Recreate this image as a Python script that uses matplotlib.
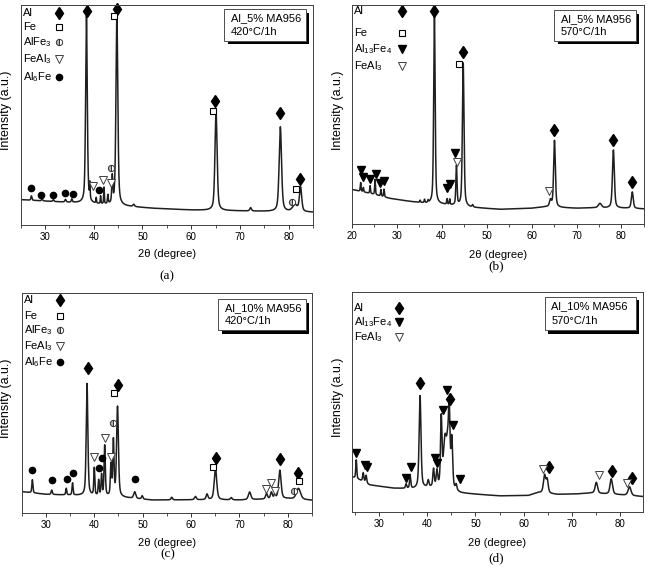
import numpy as np
import matplotlib
matplotlib.use('Agg')
import matplotlib.pyplot as plt
from matplotlib.patches import Rectangle
from matplotlib.ticker import MultipleLocator

plt.rcParams['font.family'] = ['Liberation Sans', 'DejaVu Sans']
plt.rcParams['mathtext.default'] = 'regular'

# ---- panel (a): Al_5% MA956, 420°C/1h ----
a_base_x = [25, 32, 38, 46, 52, 60, 70, 80, 85]
a_base_y = [11.5, 10.6, 9.9, 8.6, 7.6, 6.8, 6.4, 6.0, 5.8]
a_pos = [27.2, 29.4, 31.7, 34.2, 35.5, 38.5, 39.2, 40.5, 41.4, 42.1, 42.9, 43.8,
         44.75, 48.2, 65.1, 72.2, 78.3, 81.3, 82.45]
a_height = [2.0, 0.8, 0.8, 1.2, 1.5, 85.0, 7.0, 2.5, 3.5, 7.5, 4.0, 12.0,
            86.0, 1.0, 45.0, 1.5, 38.5, 3.0, 11.0]
a_fwhm = [0.25, 0.3, 0.3, 0.3, 0.25, 0.4, 0.15, 0.15, 0.15, 0.15, 0.2, 0.25,
          0.45, 0.4, 0.52, 0.4, 0.58, 1.2, 0.55]
a_al_x, a_al_y = [38.56, 44.8, 64.95, 78.2, 82.4], [97.4, 98.3, 56.4, 50.8, 20.8]
a_fe_x, a_fe_y = [44.2, 64.4, 81.6], [95.0, 52.0, 16.2]
a_alfe3_x, a_alfe3_y = [43.5, 80.7], [26.0, 10.5]
a_feal3_x, a_feal3_y = [39.8, 42.0, 43.5], [17.7, 20.5, 19.1]
a_al6fe_x = [27.1, 29.2, 31.6, 34.1, 35.8, 41.0]
a_al6fe_y = [17.0, 13.5, 13.5, 14.4, 14.2, 15.8]

# ---- panel (b): Al_5% MA956, 570°C/1h ----
b_base_x = [20, 24, 28.5, 33, 36.6, 40, 46.3, 53, 60, 63, 70, 74, 81, 85]
b_base_y = [15.8, 14.0, 11.7, 10.3, 9.4, 9.0, 7.6, 6.7, 7.2, 7.8, 7.2, 7.4, 7.2, 6.9]
b_pos = [22.0, 22.6, 24.1, 25.2, 26.5, 27.2, 35.2, 36.2, 37.0, 38.4, 41.2, 41.8,
         43.3, 44.8, 46.9, 64.2, 65.1, 75.2, 78.2, 82.4]
b_height = [4.0, 2.0, 3.5, 7.0, 3.0, 3.5, 1.0, 1.5, 1.0, 86.5, 2.5, 2.5,
            18.0, 65.5, 1.0, 3.0, 30.5, 2.0, 26.5, 7.5]
b_fwhm = [0.2, 0.2, 0.2, 0.2, 0.2, 0.2, 0.2, 0.2, 0.2, 0.38, 0.2, 0.2,
          0.3, 0.42, 0.3, 0.5, 0.45, 0.8, 0.5, 0.5]
b_al_x, b_al_y = [38.2, 44.7, 65.1, 78.1, 82.4], [97.3, 78.4, 42.9, 38.4, 19.0]
b_fe_x, b_fe_y = [43.8], [72.9]
b_al13fe4_x = [22.1, 22.6, 24.1, 25.4, 26.4, 27.3, 41.2, 41.8, 43.0]
b_al13fe4_y = [24.7, 21.3, 20.4, 22.8, 18.6, 19.8, 16.3, 18.1, 32.3]
b_feal3_x, b_feal3_y = [43.4, 63.9], [28.2, 15.2]

# ---- panel (c): Al_10% MA956, 420°C/1h ----
c_base_x = [25, 30, 34, 37, 46, 52, 59, 65, 70, 74, 80, 85]
c_base_y = [9.7, 8.5, 8.2, 8.0, 7.0, 5.9, 6.0, 6.0, 5.9, 6.2, 6.5, 5.8]
c_pos = [27.2, 31.2, 34.2, 35.5, 38.5, 40.0, 40.9, 41.5, 42.15, 43.45, 43.95, 44.8,
         48.35, 49.9, 56.0, 60.9, 63.3, 65.05, 68.3, 72.1, 75.6, 76.6, 77.3, 78.35, 82.2]
c_height = [6.0, 2.0, 3.0, 5.5, 51.0, 12.5, 7.0, 9.5, 23.0, 14.0, 25.0, 41.0,
            3.0, 1.5, 1.2, 1.5, 2.5, 14.5, 1.0, 3.5, 2.5, 3.0, 2.0, 13.0, 5.0]
c_fwhm = [0.25, 0.3, 0.25, 0.25, 0.4, 0.25, 0.25, 0.25, 0.3, 0.3, 0.3, 0.45,
          0.5, 0.35, 0.35, 0.45, 0.45, 0.6, 0.45, 0.6, 0.45, 0.45, 0.35, 0.6, 1.0]
c_al_x, c_al_y = [38.6, 44.9, 65.1, 78.4, 82.2], [65.9, 58.3, 25.2, 24.4, 18.3]
c_fe_x, c_fe_y = [44.1, 64.6, 82.3], [54.5, 21.1, 14.6]
c_alfe3_x, c_alfe3_y = [43.9, 81.2], [41.1, 10.2]
c_feal3_x = [39.9, 42.3, 43.5, 75.5, 76.5, 77.4]
c_feal3_y = [25.3, 34.1, 25.6, 11.1, 13.5, 10.0]
c_al6fe_x = [27.2, 31.2, 34.3, 35.6, 41.0, 41.5, 48.5]
c_al6fe_y = [19.6, 15.0, 15.6, 18.3, 20.6, 25.2, 15.5]

# ---- panel (d): Al_10% MA956, 570°C/1h ----
d_base_x = [24.3, 26, 28, 33, 37, 40, 43, 47, 55, 61, 63, 67, 71, 74, 80, 84.8]
d_base_y = [16.0, 14.5, 12.3, 10.8, 10.5, 11.0, 11.0, 8.5, 7.3, 7.5, 8.8, 8.0, 8.2, 8.6, 7.8, 7.0]
d_pos = [25.25, 26.7, 27.3, 35.6, 36.45, 38.5, 40.2, 41.3, 42.0, 42.9, 43.7, 44.2,
         44.55, 45.1, 46.0, 64.35, 64.9, 75.1, 78.2, 82.0]
d_height = [8.5, 4.0, 3.5, 2.0, 5.5, 42.0, 3.0, 8.0, 7.0, 30.0, 22.0, 12.0,
            35.0, 22.0, 2.5, 8.0, 6.0, 5.0, 7.0, 4.0]
d_fwhm = [0.25, 0.3, 0.3, 0.3, 0.3, 0.45, 0.35, 0.35, 0.35, 0.35, 0.8, 0.45,
          0.4, 0.4, 0.35, 0.55, 0.5, 0.6, 0.6, 0.7]
d_al_x, d_al_y = [38.5, 44.7, 65.2, 78.3, 82.5], [58.8, 51.2, 20.6, 18.8, 15.6]
d_al13fe4_x = [25.3, 27.0, 27.5, 35.5, 36.7, 41.6, 42.0, 43.3, 44.1, 45.3, 46.8]
d_al13fe4_y = [27.0, 21.4, 20.6, 15.3, 20.3, 24.4, 22.1, 46.4, 55.5, 39.5, 14.9]
d_feal3_x, d_feal3_y = [64.1, 75.6, 81.4], [19.4, 16.7, 13.3]

# marker styles per phase
STYLE = {
    'Al': dict(marker='d', ms=6, mfc='black', mec='black'),
    'Fe': dict(marker='s', ms=4, mfc='white', mec='black', mew=0.8),
    'AlFe$_3$': dict(marker='o', ms=4.5, fillstyle='left', mfc='0.7',
                     mfcalt='white', mec='0.2', mew=0.7),
    'FeAl$_3$': dict(marker='v', ms=6, mfc='white', mec='0.25', mew=0.7),
    'Al$_6$Fe': dict(marker='o', ms=4.5, mfc='black', mec='black'),
    'Al$_{13}$Fe$_4$': dict(marker='v', ms=6, mfc='black', mec='black'),
}


def profile(x, bx, by, pos, hgt, fw):
    y = np.interp(x, bx, by)
    for c, h, w in zip(pos, hgt, fw):
        g = np.exp(-4 * np.log(2) * ((x - c) / w) ** 2)
        l = 1 / (1 + ((x - c) / (w / 2)) ** 2)
        y = y + h * (0.5 * g + 0.5 * l)
    return y


def panel(rect, xlim, bx, by, pos, hgt, fw, marks, legend, legend_xy, box, box_txt,
          ylab_x, xlab_y, cap, cap_xy):
    ax = fig.add_axes(rect)
    x = np.arange(xlim[0], xlim[1] + 0.01, 0.01)
    ax.plot(x, profile(x, bx, by, pos, hgt, fw), color='0.12', lw=1.1)
    for name, mx, my in marks:
        ax.plot(mx, my, ls='none', clip_on=False, **STYLE[name])
    # phase legend
    tx, mx0, rows = legend_xy
    for name, ry in zip(legend, rows):
        ax.text(tx, ry, name, transform=ax.transAxes, fontsize=8, va='center')
        ax.plot([mx0], [ry], transform=ax.transAxes, ls='none', clip_on=False,
                **STYLE[name])
    # sample box with shadow
    x0, y0, x1, y1 = box
    ax.add_patch(Rectangle((x0 + 0.012, y0 - 0.016), x1 - x0, y1 - y0,
                           transform=ax.transAxes, fc='black', ec='black', lw=0, zorder=4))
    ax.add_patch(Rectangle((x0, y0), x1 - x0, y1 - y0, transform=ax.transAxes,
                           fc='white', ec='0.3', lw=0.7, zorder=5))
    ax.text(x0 + 0.022, y0 + (y1 - y0) * 0.72, box_txt[0], transform=ax.transAxes,
            fontsize=8, va='center', zorder=6)
    ax.text(x0 + 0.022, y0 + (y1 - y0) * 0.28, box_txt[1], transform=ax.transAxes,
            fontsize=8, va='center', zorder=6)

    ax.set_xlim(*xlim)
    ax.set_ylim(0, 100)
    ax.xaxis.set_major_locator(MultipleLocator(10))
    ax.xaxis.set_minor_locator(MultipleLocator(5))
    ax.tick_params(axis='x', which='major', direction='out', length=3, width=0.7,
                   labelsize=7, pad=2, color='0.2')
    ax.tick_params(axis='x', which='minor', direction='out', length=2, width=0.6,
                   color='0.2')
    ax.set_yticks([])
    for s in ax.spines.values():
        s.set_linewidth(0.7)
        s.set_color('0.25')
    ax.text(ylab_x, 0.52, 'Intensity (a.u.)', transform=ax.transAxes, rotation=90,
            fontsize=9, ha='center', va='center')
    ax.text(0.5, xlab_y, '2θ (degree)', transform=ax.transAxes, fontsize=8,
            ha='center', va='center')
    ax.text(cap_xy[0], cap_xy[1], cap, transform=ax.transAxes, fontsize=9.5,
            ha='center', va='center', family='Liberation Serif')
    return ax


fig = plt.figure(figsize=(6.48, 5.69), dpi=100)

panel([0.0319, 0.6046, 0.4511, 0.3866], (25, 85), a_base_x, a_base_y, a_pos, a_height, a_fwhm,
      [('Al', a_al_x, a_al_y), ('Fe', a_fe_x, a_fe_y), ('AlFe$_3$', a_alfe3_x, a_alfe3_y),
       ('FeAl$_3$', a_feal3_x, a_feal3_y), ('Al$_6$Fe', a_al6fe_x, a_al6fe_y)],
      ['Al', 'Fe', 'AlFe$_3$', 'FeAl$_3$', 'Al$_6$Fe'],
      (0.008, 0.132, [0.962, 0.901, 0.830, 0.755, 0.674]),
      (0.696, 0.838, 0.976, 0.980), ('Al_5% MA956', '420°C/1h'),
      -0.05, -0.132, '(a)', (0.5, -0.232))

panel([0.5427, 0.6063, 0.4511, 0.3849], (20, 85), b_base_x, b_base_y, b_pos, b_height, b_fwhm,
      [('Al', b_al_x, b_al_y), ('Fe', b_fe_x, b_fe_y),
       ('Al$_{13}$Fe$_4$', b_al13fe4_x, b_al13fe4_y), ('FeAl$_3$', b_feal3_x, b_feal3_y)],
      ['Al', 'Fe', 'Al$_{13}$Fe$_4$', 'FeAl$_3$'],
      (0.008, 0.173, [0.973, 0.874, 0.798, 0.721]),
      (0.693, 0.837, 0.972, 0.977), ('Al_5% MA956', '570°C/1h'),
      -0.048, -0.142, '(b)', (0.496, -0.195))

panel([0.0335, 0.0984, 0.4480, 0.3861], (25, 85), c_base_x, c_base_y, c_pos, c_height, c_fwhm,
      [('Al', c_al_x, c_al_y), ('Fe', c_fe_x, c_fe_y), ('AlFe$_3$', c_alfe3_x, c_alfe3_y),
       ('FeAl$_3$', c_feal3_x, c_feal3_y), ('Al$_6$Fe', c_al6fe_x, c_al6fe_y)],
      ['Al', 'Fe', 'AlFe$_3$', 'FeAl$_3$', 'Al$_6$Fe'],
      (0.008, 0.132, [0.970, 0.898, 0.833, 0.760, 0.686]),
      (0.677, 0.833, 0.978, 0.974), ('Al_10% MA956', '420°C/1h'),
      -0.054, -0.135, '(c)', (0.505, -0.188))

panel([0.5427, 0.1002, 0.4500, 0.3866], (24.3, 84.85), d_base_x, d_base_y, d_pos, d_height, d_fwhm,
      [('Al', d_al_x, d_al_y), ('Al$_{13}$Fe$_4$', d_al13fe4_x, d_al13fe4_y),
       ('FeAl$_3$', d_feal3_x, d_feal3_y)],
      ['Al', 'Al$_{13}$Fe$_4$', 'FeAl$_3$'],
      (0.008, 0.162, [0.929, 0.862, 0.794]),
      (0.663, 0.827, 0.975, 0.979), ('Al_10% MA956', '570°C/1h'),
      -0.048, -0.14, '(d)', (0.497, -0.21))

fig.savefig('out.png', dpi=100)
